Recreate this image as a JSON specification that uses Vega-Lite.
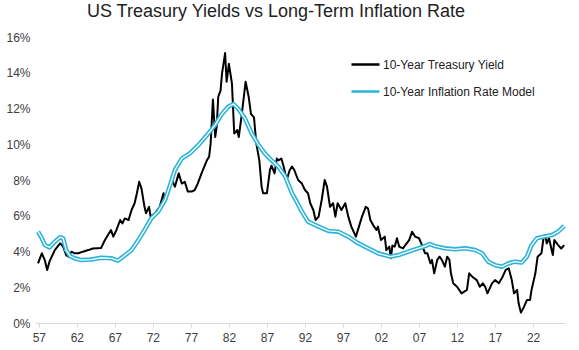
{
  "$schema": "https://vega.github.io/schema/vega-lite/v6.json",
  "width": 530,
  "height": 286,
  "autosize": {"type": "none"},
  "padding": {"left": 35, "top": 37, "right": 14, "bottom": 27},
  "background": "white",
  "config": {
    "font": "Liberation Sans",
    "view": {"stroke": null},
    "axis": {"grid": false, "labelFont": "Liberation Sans", "labelFontSize": 12, "labelColor": "#404040"}
  },
  "title": {
    "text": "US Treasury Yields vs Long-Term Inflation Rate",
    "fontSize": 18,
    "fontWeight": "normal",
    "font": "Liberation Sans",
    "color": "#222222",
    "anchor": "middle",
    "dx": -24,
    "offset": 10
  },
  "datasets": {
    "yield": [
      {"year": 1956.9, "value": 3.34}, {"year": 1957.4, "value": 3.9}, {"year": 1957.8, "value": 3.5},
      {"year": 1958.1, "value": 2.97}, {"year": 1958.4, "value": 3.43}, {"year": 1959.1, "value": 4.08},
      {"year": 1959.8, "value": 4.46}, {"year": 1960.2, "value": 4.27}, {"year": 1960.6, "value": 3.8},
      {"year": 1960.9, "value": 3.71}, {"year": 1961.3, "value": 3.99}, {"year": 1961.7, "value": 3.9},
      {"year": 1962.2, "value": 3.9}, {"year": 1962.8, "value": 3.99}, {"year": 1963.5, "value": 4.08},
      {"year": 1964.1, "value": 4.17}, {"year": 1965.2, "value": 4.2}, {"year": 1965.7, "value": 4.64},
      {"year": 1966.1, "value": 4.92}, {"year": 1966.5, "value": 5.2}, {"year": 1966.8, "value": 4.83},
      {"year": 1967.2, "value": 5.2}, {"year": 1967.7, "value": 5.76}, {"year": 1968.0, "value": 5.57},
      {"year": 1968.3, "value": 5.85}, {"year": 1968.8, "value": 5.76}, {"year": 1969.2, "value": 6.32},
      {"year": 1969.6, "value": 6.7}, {"year": 1969.9, "value": 7.26}, {"year": 1970.2, "value": 7.9},
      {"year": 1970.5, "value": 7.53}, {"year": 1970.9, "value": 6.5}, {"year": 1971.1, "value": 6.14},
      {"year": 1971.5, "value": 6.5}, {"year": 1971.7, "value": 5.95}, {"year": 1972.3, "value": 6.14},
      {"year": 1972.9, "value": 6.5}, {"year": 1973.4, "value": 7.26}, {"year": 1973.6, "value": 6.9},
      {"year": 1974.0, "value": 7.44}, {"year": 1974.5, "value": 8.0}, {"year": 1974.9, "value": 7.63},
      {"year": 1975.4, "value": 8.37}, {"year": 1975.8, "value": 7.8}, {"year": 1976.2, "value": 7.9},
      {"year": 1976.6, "value": 7.35}, {"year": 1977.1, "value": 7.35}, {"year": 1977.5, "value": 7.44},
      {"year": 1977.9, "value": 7.8}, {"year": 1978.4, "value": 8.37}, {"year": 1979.1, "value": 9.1},
      {"year": 1979.4, "value": 9.3}, {"year": 1979.6, "value": 10.05}, {"year": 1979.9, "value": 12.5},
      {"year": 1980.2, "value": 10.4}, {"year": 1980.4, "value": 11.0}, {"year": 1980.6, "value": 12.66},
      {"year": 1980.9, "value": 13.0}, {"year": 1981.1, "value": 13.97}, {"year": 1981.5, "value": 15.1},
      {"year": 1981.7, "value": 13.5}, {"year": 1982.0, "value": 14.5}, {"year": 1982.4, "value": 13.4},
      {"year": 1982.7, "value": 10.6}, {"year": 1983.1, "value": 10.8}, {"year": 1983.3, "value": 10.4},
      {"year": 1983.7, "value": 11.7}, {"year": 1984.2, "value": 13.5}, {"year": 1984.6, "value": 12.66},
      {"year": 1984.9, "value": 11.7}, {"year": 1985.3, "value": 11.5}, {"year": 1985.6, "value": 10.05},
      {"year": 1986.0, "value": 9.1}, {"year": 1986.3, "value": 7.63}, {"year": 1986.5, "value": 7.26},
      {"year": 1987.0, "value": 7.26}, {"year": 1987.4, "value": 8.56}, {"year": 1987.6, "value": 8.8},
      {"year": 1988.0, "value": 8.37}, {"year": 1988.3, "value": 9.2}, {"year": 1988.5, "value": 9.1},
      {"year": 1988.9, "value": 9.2}, {"year": 1989.2, "value": 8.75}, {"year": 1989.6, "value": 8.0},
      {"year": 1990.0, "value": 8.56}, {"year": 1990.3, "value": 8.75}, {"year": 1990.6, "value": 8.56},
      {"year": 1991.1, "value": 8.0}, {"year": 1991.6, "value": 7.8}, {"year": 1992.0, "value": 7.44},
      {"year": 1992.4, "value": 7.26}, {"year": 1992.7, "value": 6.7}, {"year": 1993.1, "value": 6.32},
      {"year": 1993.4, "value": 5.76}, {"year": 1993.8, "value": 5.95}, {"year": 1994.2, "value": 6.88},
      {"year": 1994.6, "value": 8.0}, {"year": 1994.9, "value": 7.63}, {"year": 1995.3, "value": 6.5},
      {"year": 1995.7, "value": 6.7}, {"year": 1996.0, "value": 5.95}, {"year": 1996.3, "value": 6.7},
      {"year": 1996.8, "value": 6.32}, {"year": 1997.3, "value": 6.7}, {"year": 1997.7, "value": 5.95},
      {"year": 1998.1, "value": 5.39}, {"year": 1998.7, "value": 4.83}, {"year": 1999.1, "value": 5.39},
      {"year": 1999.5, "value": 5.95}, {"year": 2000.0, "value": 6.5}, {"year": 2000.3, "value": 6.4},
      {"year": 2000.6, "value": 5.76}, {"year": 2001.1, "value": 5.39}, {"year": 2001.4, "value": 5.2},
      {"year": 2001.6, "value": 5.39}, {"year": 2002.0, "value": 4.64}, {"year": 2002.5, "value": 4.83},
      {"year": 2002.7, "value": 4.08}, {"year": 2003.1, "value": 4.27}, {"year": 2003.3, "value": 3.62},
      {"year": 2003.5, "value": 4.33}, {"year": 2003.8, "value": 4.27}, {"year": 2004.1, "value": 4.74},
      {"year": 2004.4, "value": 4.27}, {"year": 2004.9, "value": 4.17}, {"year": 2005.2, "value": 4.36},
      {"year": 2005.7, "value": 4.64}, {"year": 2006.1, "value": 5.11}, {"year": 2006.5, "value": 4.83},
      {"year": 2007.0, "value": 4.74}, {"year": 2007.4, "value": 4.36}, {"year": 2007.8, "value": 3.9},
      {"year": 2008.1, "value": 3.9}, {"year": 2008.5, "value": 3.34}, {"year": 2008.7, "value": 3.53},
      {"year": 2009.0, "value": 2.78}, {"year": 2009.4, "value": 3.53}, {"year": 2009.7, "value": 3.71},
      {"year": 2010.0, "value": 3.53}, {"year": 2010.4, "value": 3.15}, {"year": 2010.7, "value": 3.71},
      {"year": 2011.0, "value": 3.53}, {"year": 2011.2, "value": 2.78}, {"year": 2011.5, "value": 2.22},
      {"year": 2012.0, "value": 2.03}, {"year": 2012.6, "value": 1.66}, {"year": 2013.3, "value": 1.85},
      {"year": 2013.6, "value": 2.78}, {"year": 2014.0, "value": 2.59}, {"year": 2014.6, "value": 2.4},
      {"year": 2015.0, "value": 2.03}, {"year": 2015.4, "value": 2.22}, {"year": 2015.7, "value": 2.03},
      {"year": 2016.0, "value": 1.66}, {"year": 2016.6, "value": 2.22}, {"year": 2017.0, "value": 2.4},
      {"year": 2017.5, "value": 2.22}, {"year": 2018.0, "value": 2.59}, {"year": 2018.4, "value": 2.97},
      {"year": 2018.8, "value": 3.06}, {"year": 2019.2, "value": 2.4}, {"year": 2019.5, "value": 1.66},
      {"year": 2019.9, "value": 1.85}, {"year": 2020.1, "value": 1.1}, {"year": 2020.4, "value": 0.58},
      {"year": 2020.8, "value": 0.9}, {"year": 2021.2, "value": 1.29}, {"year": 2021.6, "value": 1.29},
      {"year": 2021.8, "value": 1.85}, {"year": 2022.3, "value": 2.78}, {"year": 2022.6, "value": 3.71},
      {"year": 2023.1, "value": 3.9}, {"year": 2023.4, "value": 4.83}, {"year": 2023.6, "value": 4.92},
      {"year": 2023.8, "value": 4.45}, {"year": 2024.1, "value": 4.74}, {"year": 2024.4, "value": 4.17},
      {"year": 2024.6, "value": 3.8}, {"year": 2024.8, "value": 4.64}, {"year": 2025.3, "value": 4.36},
      {"year": 2025.7, "value": 4.17}, {"year": 2026.1, "value": 4.36}
    ],
    "model": [
      {"year": 1956.9, "value": 5.11}, {"year": 1957.4, "value": 4.74}, {"year": 1957.8, "value": 4.36},
      {"year": 1958.4, "value": 4.23}, {"year": 1959.1, "value": 4.55}, {"year": 1959.8, "value": 4.8},
      {"year": 1960.2, "value": 4.74}, {"year": 1960.6, "value": 4.08}, {"year": 1961.1, "value": 3.75},
      {"year": 1961.7, "value": 3.62}, {"year": 1962.6, "value": 3.52}, {"year": 1963.9, "value": 3.55},
      {"year": 1965.2, "value": 3.65}, {"year": 1966.6, "value": 3.62}, {"year": 1967.4, "value": 3.49},
      {"year": 1968.1, "value": 3.71}, {"year": 1969.2, "value": 4.08}, {"year": 1970.1, "value": 4.64},
      {"year": 1970.9, "value": 5.2}, {"year": 1971.8, "value": 5.86}, {"year": 1972.7, "value": 6.23},
      {"year": 1973.6, "value": 6.88}, {"year": 1974.2, "value": 7.63}, {"year": 1974.9, "value": 8.56},
      {"year": 1975.8, "value": 9.2}, {"year": 1976.9, "value": 9.5}, {"year": 1978.0, "value": 9.96},
      {"year": 1979.1, "value": 10.5}, {"year": 1980.2, "value": 11.08}, {"year": 1981.0, "value": 11.64},
      {"year": 1981.9, "value": 12.1}, {"year": 1982.6, "value": 12.25}, {"year": 1983.2, "value": 12.0},
      {"year": 1984.1, "value": 11.45}, {"year": 1985.0, "value": 10.6}, {"year": 1985.9, "value": 9.96},
      {"year": 1986.7, "value": 9.5}, {"year": 1987.6, "value": 9.1}, {"year": 1988.5, "value": 8.75},
      {"year": 1989.4, "value": 8.2}, {"year": 1990.3, "value": 7.26}, {"year": 1990.9, "value": 6.8},
      {"year": 1991.6, "value": 6.23}, {"year": 1992.4, "value": 5.67}, {"year": 1993.8, "value": 5.39},
      {"year": 1995.1, "value": 5.15}, {"year": 1996.4, "value": 5.11}, {"year": 1997.7, "value": 4.83},
      {"year": 1999.0, "value": 4.46}, {"year": 2000.3, "value": 4.18}, {"year": 2001.6, "value": 3.9},
      {"year": 2003.2, "value": 3.71}, {"year": 2004.3, "value": 3.8}, {"year": 2005.6, "value": 3.99},
      {"year": 2006.9, "value": 4.18}, {"year": 2007.8, "value": 4.3}, {"year": 2008.4, "value": 4.42},
      {"year": 2009.1, "value": 4.3}, {"year": 2010.4, "value": 4.18}, {"year": 2011.7, "value": 4.12},
      {"year": 2013.1, "value": 4.18}, {"year": 2014.4, "value": 4.08}, {"year": 2015.3, "value": 3.9},
      {"year": 2016.1, "value": 3.43}, {"year": 2017.0, "value": 3.24}, {"year": 2017.9, "value": 3.15},
      {"year": 2018.8, "value": 3.34}, {"year": 2019.6, "value": 3.43}, {"year": 2020.5, "value": 3.38},
      {"year": 2021.2, "value": 3.71}, {"year": 2021.8, "value": 4.36}, {"year": 2022.5, "value": 4.74},
      {"year": 2023.4, "value": 4.83}, {"year": 2024.5, "value": 4.92}, {"year": 2025.3, "value": 5.11},
      {"year": 2026.1, "value": 5.43}
    ]
  },
  "encoding": {
    "x": {
      "field": "year",
      "type": "quantitative",
      "scale": {"domain": [1956.5, 2026.2], "nice": false, "zero": false},
      "axis": {
        "title": null,
        "values": [1957, 1962, 1967, 1972, 1977, 1982, 1987, 1992, 1997, 2002, 2007, 2012, 2017, 2022],
        "labelExpr": "substring(toString(datum.value), 2, 4)",
        "domainColor": "#d9d9d9",
        "tickColor": "#d9d9d9",
        "tickSize": 4,
        "labelPadding": 5,
        "labelFlush": false
      }
    },
    "y": {
      "field": "value",
      "type": "quantitative",
      "scale": {"domain": [0, 16], "nice": false},
      "axis": {
        "title": null,
        "values": [0, 2, 4, 6, 8, 10, 12, 14, 16],
        "labelExpr": "datum.value + '%'",
        "domain": false,
        "ticks": false,
        "labelPadding": 5
      }
    }
  },
  "layer": [
    {
      "data": {"name": "yield"},
      "transform": [{"calculate": "'10-Year Treasury Yield'", "as": "series"}],
      "mark": {"type": "line", "strokeWidth": 2, "strokeJoin": "round"},
      "encoding": {
        "color": {
          "field": "series",
          "type": "nominal",
          "scale": {"domain": ["10-Year Treasury Yield", "10-Year Inflation Rate Model"], "range": ["#000000", "#2DB3D9"]},
          "legend": {
            "title": null,
            "orient": "none",
            "legendX": 315,
            "legendY": 12,
            "symbolType": "stroke",
            "symbolSize": 784,
            "symbolStrokeWidth": 2.5,
            "labelFontSize": 12,
            "labelColor": "#222222",
            "labelOffset": 2,
            "rowPadding": 5
          }
        }
      }
    },
    {
      "data": {"name": "model"},
      "transform": [{"calculate": "'10-Year Inflation Rate Model'", "as": "series"}],
      "mark": {"type": "line", "strokeWidth": 4.5, "strokeJoin": "round"},
      "encoding": {
        "color": {"field": "series", "type": "nominal"}
      }
    },
    {
      "data": {"name": "model"},
      "mark": {"type": "line", "strokeWidth": 1.3, "color": "white", "strokeJoin": "round"},
      "encoding": {}
    }
  ]
}
